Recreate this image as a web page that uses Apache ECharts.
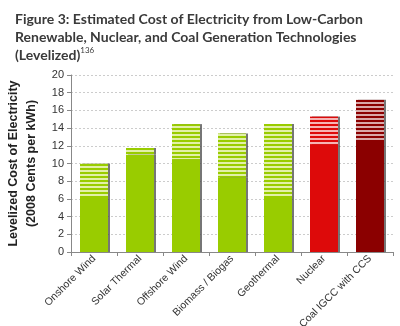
<!DOCTYPE html>
<html><head><meta charset="utf-8">
<script src="https://cdn.jsdelivr.net/npm/echarts@6/dist/echarts.min.js"></script>
<style>html,body{margin:0;padding:0;background:#fff}#c{width:400px;height:326px}</style>
</head><body><div id="c"></div>
<script>
var categories = ['Onshore Wind','Solar Thermal','Offshore Wind','Biomass / Biogas','Geothermal','Nuclear','Coal IGCC with CCS'];
var lowValues = [6.1, 11.0, 10.5, 8.4, 6.1, 12.1, 12.55];
var highValues = [10.0, 11.75, 14.45, 13.4, 14.45, 15.3, 17.2];
var yTicks = [0, 20, 2];
var solidColors = ['#99cc00','#99cc00','#99cc00','#99cc00','#99cc00','#dd0a0a','#8b0000'];
var stripeLight = ['#e2f0a8','#e2f0a8','#e2f0a8','#e2f0a8','#e2f0a8','#f6b4b4','#d9a8a8'];

function stripe(c1, c2) {
  var cv = document.createElement('canvas');
  cv.width = 4; cv.height = 4;
  var ctx = cv.getContext('2d');
  ctx.fillStyle = c2; ctx.fillRect(0,0,4,4);
  ctx.fillStyle = c1; ctx.fillRect(0,0,4,2);
  return {image: cv, repeat: 'repeat'};
}

var chart = echarts.init(document.getElementById('c'), null, {renderer:'canvas'});
var shadow = {shadowColor:'rgba(60,60,60,0.7)', shadowOffsetX:2, shadowOffsetY:0, shadowBlur:0};
chart.setOption({
  animation:false,
  title:{
    left:10, top:5,
    text:'Figure 3: Estimated Cost of Electricity from Low-Carbon\nRenewable, Nuclear, and Coal Generation Technologies\n(Levelized){s|136}',
    textStyle:{fontFamily:'Lato', fontWeight:'bold', fontSize:14, color:'#3a3a3a', lineHeight:18,
      rich:{s:{fontSize:8, fontFamily:'Lato', fontWeight:'normal', color:'#3a3a3a', verticalAlign:'top', padding:[0,0,8,0]}}}
  },
  grid:{left:71, right:7, top:75, bottom:74, containLabel:false, outerBoundsMode:'none'},
  xAxis:{
    type:'category', data:categories,
    axisLine:{lineStyle:{color:'#888'}},
    axisTick:{show:true, alignWithLabel:false, length:4, lineStyle:{color:'#888'}},
    axisLabel:{rotate:45, fontFamily:'Liberation Sans', fontSize:10.5, color:'#333', interval:0, margin:5}
  },
  yAxis:{
    type:'value', min:yTicks[0], max:yTicks[1], interval:yTicks[2],
    name:'Levelized Cost of Electricity\n(2008 Cents per kWh)',
    nameLocation:'middle', nameGap:29, nameRotate:90,
    nameTextStyle:{fontFamily:'Liberation Sans', fontWeight:'bold', fontSize:12.5, color:'#222', lineHeight:18},
    axisLine:{show:true, lineStyle:{color:'#888'}},
    axisTick:{show:true, length:4, lineStyle:{color:'#888'}},
    axisLabel:{fontFamily:'Liberation Sans', fontSize:11, color:'#333', margin:7},
    splitLine:{lineStyle:{color:'#ccc', type:[2,2]}}
  },
  series:[
    {type:'bar', stack:'a', barWidth:28,
      data: lowValues.map(function(v,i){return {value:v, itemStyle:Object.assign({color:solidColors[i]}, shadow)};})},
    {type:'bar', stack:'a', barWidth:28,
      data: highValues.map(function(v,i){return {value:+(v-lowValues[i]).toFixed(2), itemStyle:Object.assign({color:stripe(solidColors[i], stripeLight[i])}, shadow)};})}
  ]
});
</script></body></html>
